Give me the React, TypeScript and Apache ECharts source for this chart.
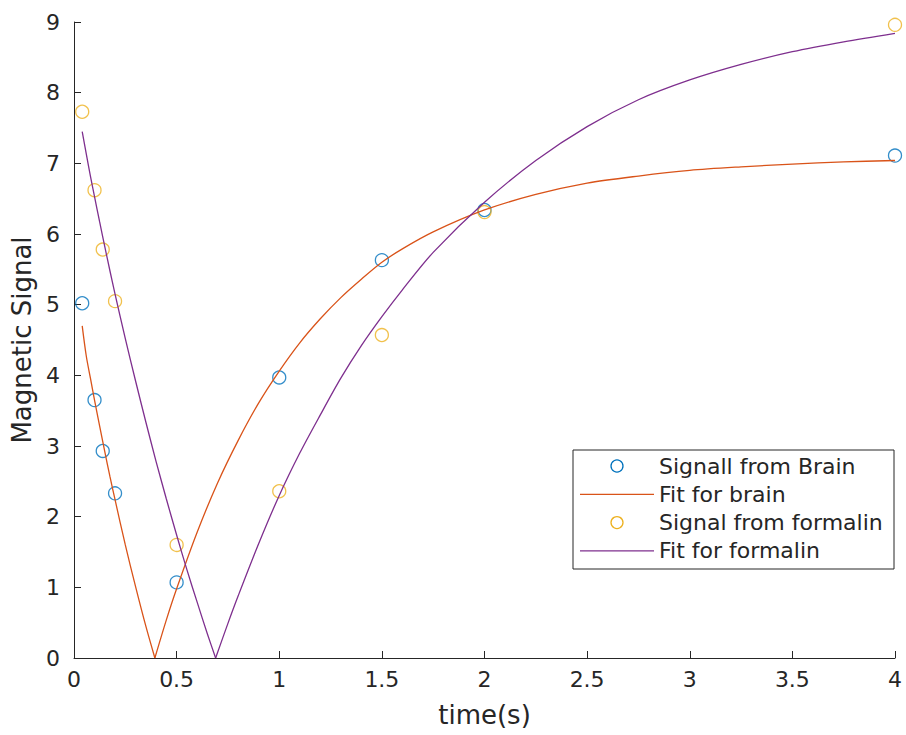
import React, { useEffect, useRef } from "react";
import * as echarts from "echarts";

const xTicks = { min: 0, max: 4, interval: 0.5 };
const yTicks = { min: 0, max: 9, interval: 1 };

const sampleTimes = [0.04, 0.1, 0.14, 0.2, 0.5, 1, 1.5, 2, 4];
const brainSignal = [5.02, 3.65, 2.93, 2.33, 1.07, 3.97, 5.63, 6.34, 7.11];
const formalinSignal = [7.73, 6.62, 5.78, 5.05, 1.6, 2.36, 4.57, 6.31, 8.96];

// fit for brain: falling branch (before the null) and rising branch (after it)
const brainFallT = [0.04, 0.06, 0.08, 0.1, 0.125, 0.15, 0.175, 0.2, 0.25, 0.3, 0.35, 0.394];
const brainFallY = [4.7, 4.27, 3.96, 3.65, 3.28, 2.92, 2.57, 2.24, 1.6, 1.01, 0.45, 0];
const brainRiseT = [0.394, 0.45, 0.5, 0.6, 0.7, 0.8, 0.9, 1.0, 1.1, 1.2, 1.3, 1.4, 1.5, 1.6, 1.75, 2.0, 2.25, 2.5, 2.75, 3.0, 3.25, 3.5, 3.75, 4.0];
const brainRiseY = [0, 0.54, 0.98, 1.78, 2.48, 3.08, 3.61, 4.06, 4.46, 4.8, 5.1, 5.36, 5.6, 5.79, 6.03, 6.34, 6.56, 6.72, 6.82, 6.9, 6.95, 6.99, 7.02, 7.04];

// fit for formalin
const formalinFallT = [0.04, 0.06, 0.08, 0.1, 0.125, 0.15, 0.175, 0.2, 0.25, 0.3, 0.35, 0.4, 0.45, 0.5, 0.55, 0.6, 0.65, 0.69];
const formalinFallY = [7.45, 7.13, 6.82, 6.53, 6.17, 5.82, 5.48, 5.15, 4.52, 3.92, 3.34, 2.78, 2.25, 1.74, 1.25, 0.79, 0.34, 0];
const formalinRiseT = [0.69, 0.75, 0.8, 0.9, 1.0, 1.1, 1.2, 1.3, 1.4, 1.5, 1.6, 1.75, 2.0, 2.25, 2.5, 2.75, 3.0, 3.25, 3.5, 3.75, 4.0];
const formalinRiseY = [0, 0.49, 0.88, 1.62, 2.3, 2.9, 3.44, 3.96, 4.42, 4.83, 5.21, 5.74, 6.45, 7.04, 7.52, 7.9, 8.18, 8.4, 8.58, 8.72, 8.84];

const seriesNames = ["Signall from Brain", "Fit for brain", "Signal from formalin", "Fit for formalin"];
const colors = { blue: "#0072BD", orange: "#D95319", yellow: "#EDB120", purple: "#7E2F8E" };
const legendKinds = ["marker", "line", "marker", "line"];
const legendColors = [colors.blue, colors.orange, colors.yellow, colors.purple];

const pairs = (xs: number[], ys: number[]) => xs.map((x, i) => [x, ys[i]]);

export default function App() {
  const ref = useRef<HTMLDivElement>(null);
  useEffect(() => {
    document.body.style.margin = "0";
    const chart = echarts.init(ref.current!, undefined, { renderer: "svg" });
    const font = "DejaVu Sans";
    const axisColor = "#262626";

    const lineSeries = (name: string, xs: number[], ys: number[], color: string) => ({
      name,
      type: "line",
      data: pairs(xs, ys),
      symbol: "none",
      showSymbol: false,
      smooth: 0.3,
      color,
      lineStyle: { color, width: 1.3 },
      itemStyle: { color },
      z: 3,
    });
    const markerSeries = (name: string, ys: number[], color: string) => ({
      name,
      type: "scatter",
      data: pairs(sampleTimes, ys),
      symbol: "circle",
      symbolSize: 13,
      itemStyle: { color: "rgba(255,255,255,0)", borderColor: color, borderWidth: 1.3 },
      z: 2,
    });

    const legendTop = 466;
    const legendStep = 28.3;
    const legendElements: any[] = [
      {
        type: "rect",
        shape: { x: 573, y: 450, width: 321, height: 119 },
        style: { fill: "#ffffff", stroke: axisColor, lineWidth: 1 },
        z: 10,
      },
    ];
    seriesNames.forEach((name, i) => {
      const y = legendTop + i * legendStep;
      if (legendKinds[i] === "marker") {
        legendElements.push({
          type: "circle",
          shape: { cx: 617, cy: y, r: 6 },
          style: { fill: "none", stroke: legendColors[i], lineWidth: 1.3 },
          z: 11,
        });
      } else {
        legendElements.push({
          type: "line",
          shape: { x1: 580, y1: y, x2: 654, y2: y },
          style: { stroke: legendColors[i], lineWidth: 1.3 },
          z: 11,
        });
      }
      legendElements.push({
        type: "text",
        x: 659,
        y,
        style: {
          text: name,
          fill: axisColor,
          fontSize: 22,
          fontFamily: font,
          verticalAlign: "middle",
          align: "left",
        },
        z: 11,
      });
    });

    chart.setOption({
      animation: false,
      backgroundColor: "#ffffff",
      textStyle: { fontFamily: font },
      grid: { left: 74, right: 11, top: 22, bottom: 77, containLabel: false },
      xAxis: {
        type: "value",
        min: xTicks.min,
        max: xTicks.max,
        interval: xTicks.interval,
        name: "time(s)",
        nameLocation: "middle",
        nameGap: 44,
        nameTextStyle: { fontSize: 26, color: axisColor, fontFamily: font },
        axisLine: { show: true, lineStyle: { color: axisColor, width: 1 } },
        axisTick: { show: true, inside: true, length: 7, lineStyle: { color: axisColor } },
        axisLabel: { fontSize: 22, color: axisColor, margin: 10, fontFamily: font },
        splitLine: { show: false },
      },
      yAxis: {
        type: "value",
        min: yTicks.min,
        max: yTicks.max,
        interval: yTicks.interval,
        name: "Magnetic Signal",
        nameLocation: "middle",
        nameGap: 34,
        nameTextStyle: { fontSize: 26, color: axisColor, fontFamily: font },
        axisLine: { show: true, lineStyle: { color: axisColor, width: 1 } },
        axisTick: { show: true, inside: true, length: 7, lineStyle: { color: axisColor } },
        axisLabel: { fontSize: 22, color: axisColor, margin: 14, fontFamily: font },
        splitLine: { show: false },
      },
      graphic: legendElements,
      series: [
        markerSeries(seriesNames[0], brainSignal, colors.blue),
        lineSeries(seriesNames[1], brainFallT, brainFallY, colors.orange),
        lineSeries(seriesNames[1], brainRiseT, brainRiseY, colors.orange),
        markerSeries(seriesNames[2], formalinSignal, colors.yellow),
        lineSeries(seriesNames[3], formalinFallT, formalinFallY, colors.purple),
        lineSeries(seriesNames[3], formalinRiseT, formalinRiseY, colors.purple),
      ],
    });
    return () => chart.dispose();
  }, []);
  return <div ref={ref} style={{ width: 906, height: 735 }} />;
}
